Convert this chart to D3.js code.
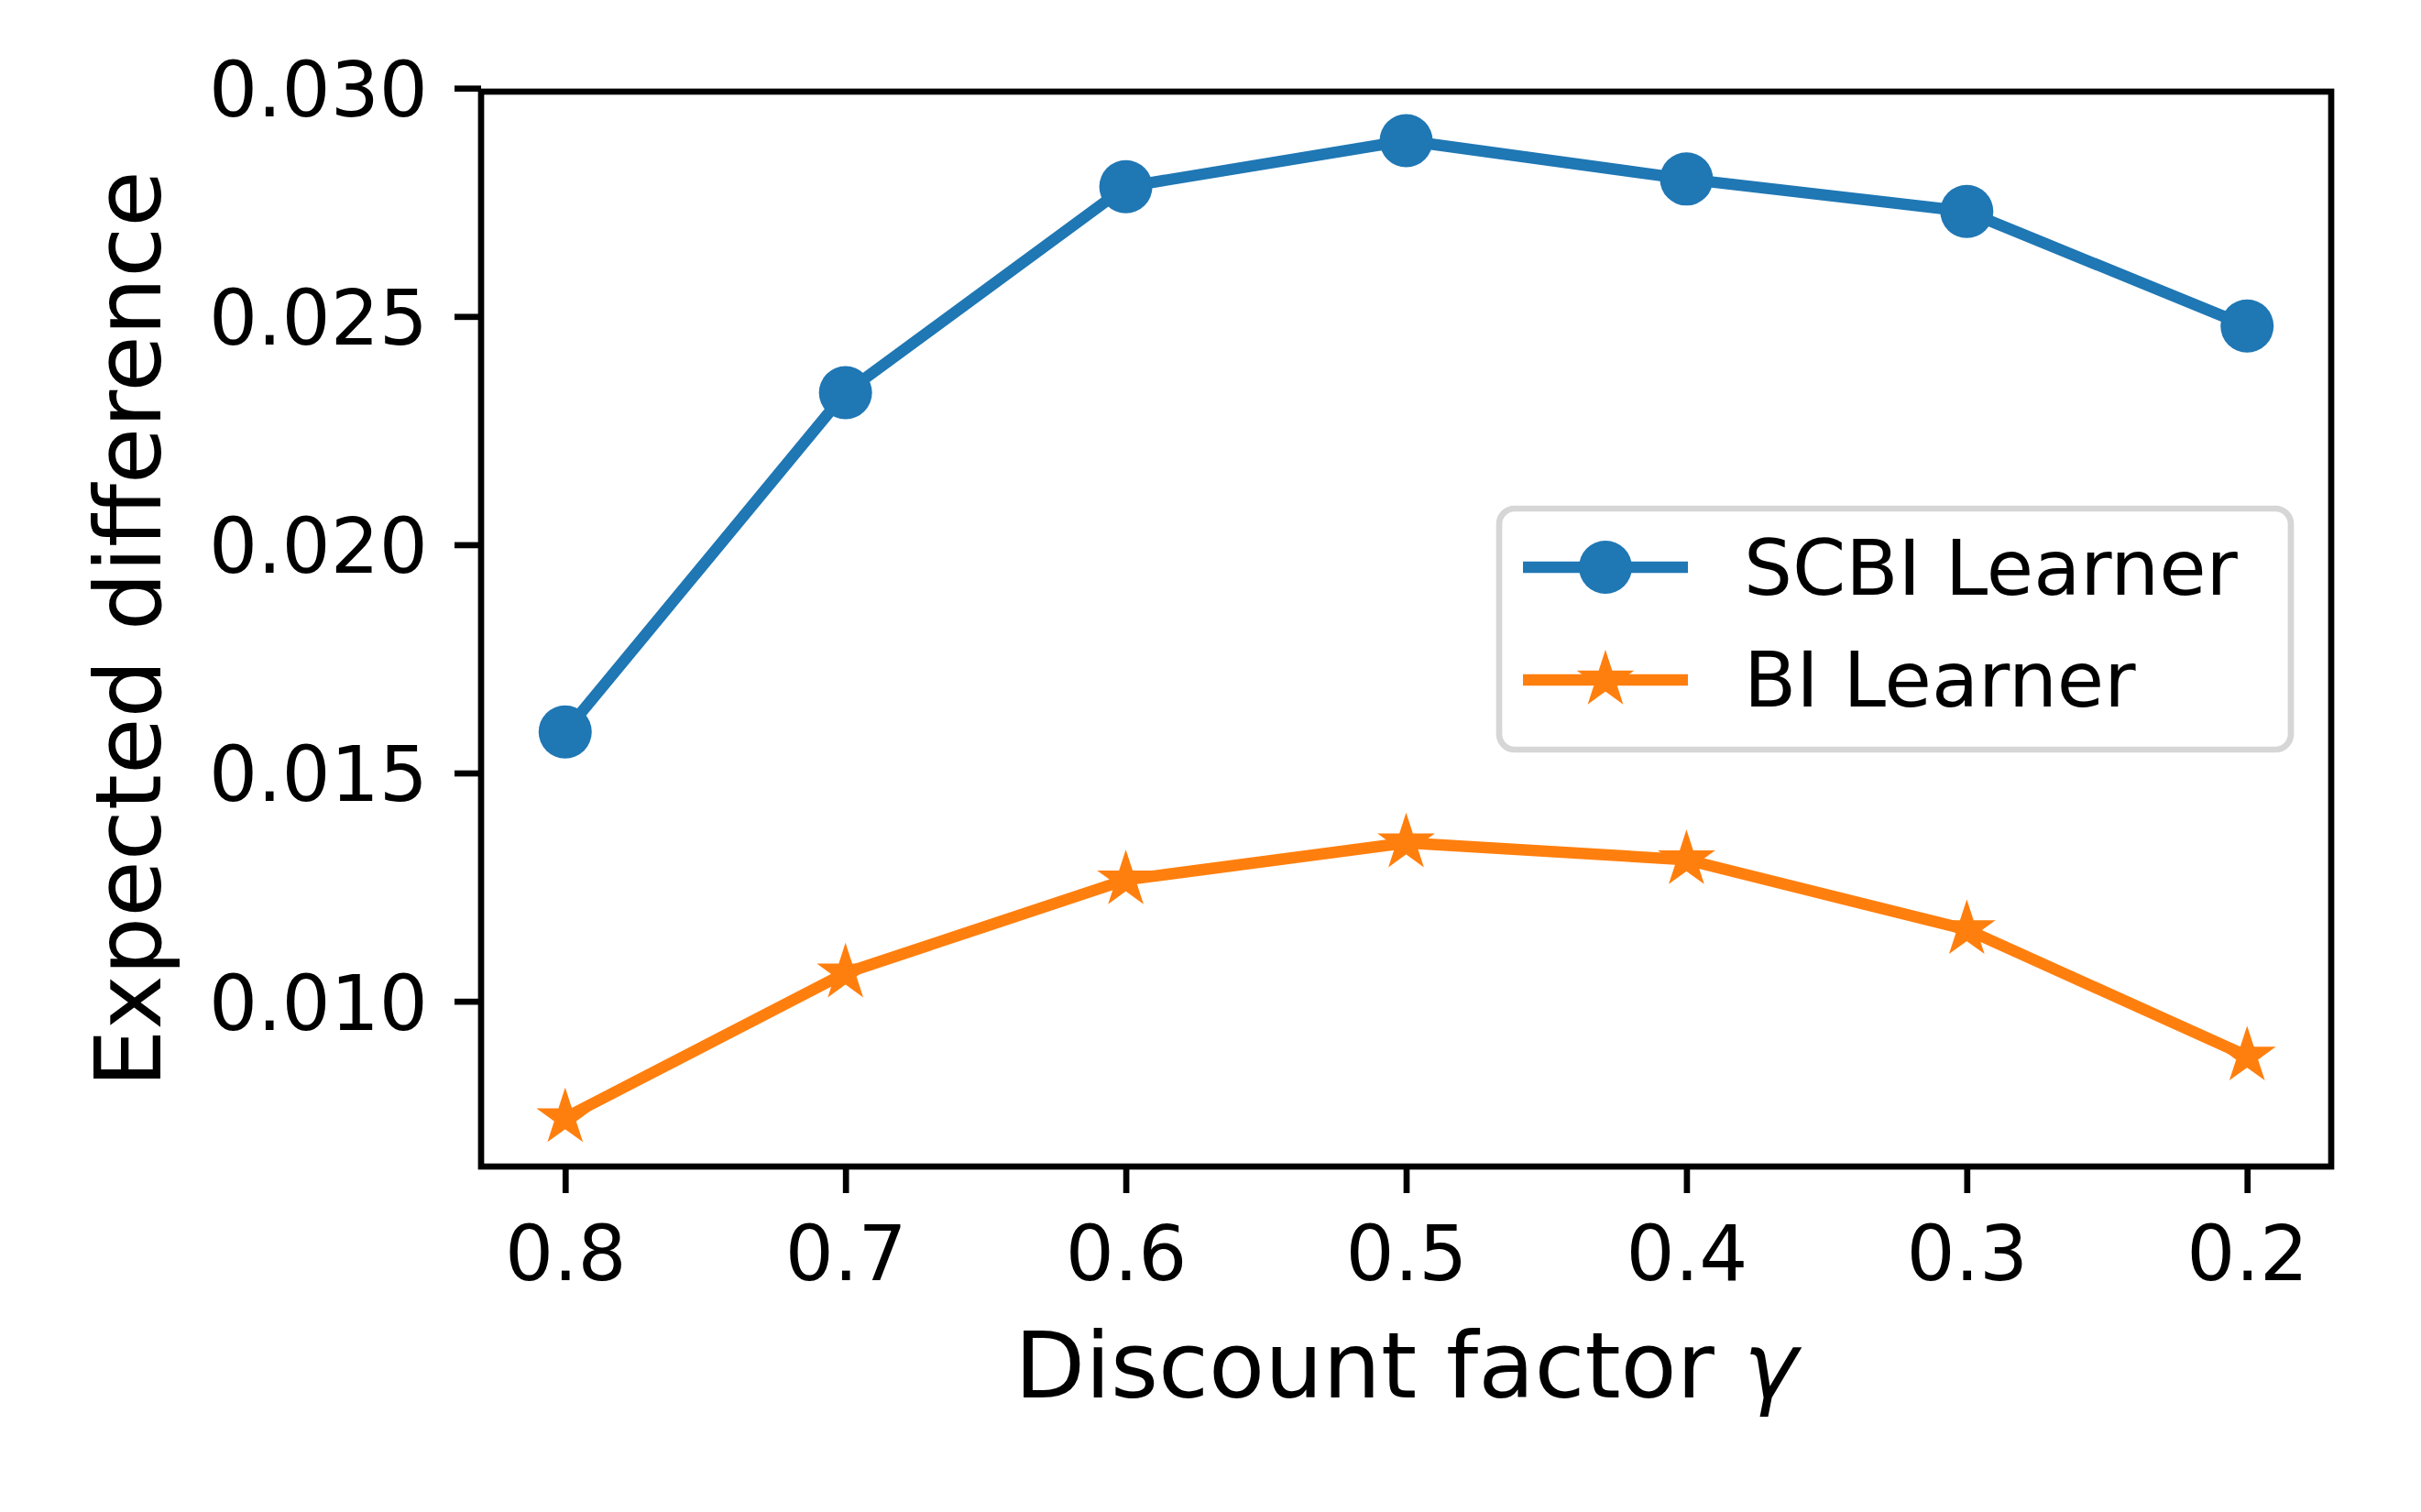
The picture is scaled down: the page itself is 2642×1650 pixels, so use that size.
<!DOCTYPE html>
<html>
<head>
<meta charset="utf-8">
<script src="https://cdn.jsdelivr.net/npm/d3@7"></script>
<style>
html, body { margin: 0; padding: 0; background: #ffffff; }
svg { display: block; }
</style>
</head>
<body>
<svg id="chart" width="2642" height="1650"></svg>
<script>
// ---- data ----
const gammas = [0.8, 0.7, 0.6, 0.5, 0.4, 0.3, 0.2];
const scbiValues = [0.01590, 0.02333, 0.02784, 0.02885, 0.02801, 0.02730, 0.02479];
const biValues = [0.00745, 0.01062, 0.01266, 0.01347, 0.01310, 0.01157, 0.00880];
const seriesNames = ["SCBI Learner", "BI Learner"];
const xTickValues = [0.8, 0.7, 0.6, 0.5, 0.4, 0.3, 0.2];
const xTickLabels = ["0.8", "0.7", "0.6", "0.5", "0.4", "0.3", "0.2"];
const yTickValues = [0.010, 0.015, 0.020, 0.025, 0.030];
const yTickLabels = ["0.010", "0.015", "0.020", "0.025", "0.030"];
const xLabel = "Discount factor ";
const yLabel = "Expected difference";

(function () {
// ---- layout ----
const pLeft = 525, pRight = 2544, pTop = 100, pBottom = 1273;
const font = "DejaVu Sans, sans-serif";
const tickFont = 83.5, labelFont = 100;
const spineW = 6.7, tickLen = 29;
const colors = ["#1f77b4", "#ff7f0e"];

const svg = d3.select("#chart");

const x = d3.scaleLinear().domain([0.83, 0.17]).range([pLeft, pRight]);
const y = d3.scaleLinear().domain([0.00638, 0.029924]).range([pBottom, pTop]);

// axes
const xAxis = d3.axisBottom(x)
  .tickValues(xTickValues)
  .tickFormat((d, i) => xTickLabels[i])
  .tickSizeInner(tickLen).tickSizeOuter(0).tickPadding(36);
const yAxis = d3.axisLeft(y)
  .tickValues(yTickValues)
  .tickFormat((d, i) => yTickLabels[i])
  .tickSizeInner(tickLen).tickSizeOuter(0).tickPadding(29);

const gx = svg.append("g").attr("transform", `translate(0,${pBottom})`).call(xAxis);
const gy = svg.append("g").attr("transform", `translate(${pLeft},0)`).call(yAxis);
[gx, gy].forEach(g => {
  g.attr("font-family", font).attr("font-size", tickFont);
  g.select(".domain").remove();
  g.selectAll(".tick line").attr("stroke", "#000").attr("stroke-width", spineW);
  g.selectAll(".tick text").attr("fill", "#000");
});
gy.selectAll(".tick text").attr("dy", "0.3645em");

// series lines & markers
const lineGen = d3.line().x((d, i) => x(gammas[i])).y(d => y(d));
const starSize = 26.5 * 26.5 / 0.8908130915292852;

function drawSeries(values, color, marker) {
  svg.append("path").datum(values)
    .attr("d", lineGen)
    .attr("fill", "none")
    .attr("stroke", color)
    .attr("stroke-width", 12.5)
    .attr("stroke-linejoin", "round")
    .attr("stroke-linecap", "square");
  if (marker === "circle") {
    svg.append("g").selectAll("circle").data(values).join("circle")
      .attr("cx", (d, i) => x(gammas[i]))
      .attr("cy", d => y(d))
      .attr("r", 29)
      .attr("fill", color);
  } else {
    svg.append("g").selectAll("path").data(values).join("path")
      .attr("d", d3.symbol().type(d3.symbolStar).size(starSize))
      .attr("transform", (d, i) => `translate(${x(gammas[i])},${y(d)})`)
      .attr("fill", color)
      .attr("stroke", color).attr("stroke-width", 4).attr("stroke-linejoin", "miter");
  }
}
drawSeries(scbiValues, colors[0], "circle");
drawSeries(biValues, colors[1], "star");

// frame
svg.append("rect")
  .attr("x", pLeft).attr("y", pTop)
  .attr("width", pRight - pLeft).attr("height", pBottom - pTop)
  .attr("fill", "none").attr("stroke", "#000").attr("stroke-width", spineW)
  .attr("stroke-linejoin", "miter");

// axis labels
const xl = svg.append("text")
  .attr("x", (pLeft + pRight) / 2).attr("y", 1525)
  .attr("text-anchor", "middle")
  .attr("font-family", font).attr("font-size", labelFont)
  .attr("fill", "#000");
xl.append("tspan").text(xLabel);
xl.append("tspan").attr("font-style", "italic").text("γ");

svg.append("text")
  .attr("transform", `translate(175,${(pTop + pBottom) / 2}) rotate(-90)`)
  .attr("text-anchor", "middle")
  .attr("font-family", font).attr("font-size", labelFont)
  .attr("fill", "#000")
  .text(yLabel);

// legend
const legend = svg.append("g");
legend.append("rect")
  .attr("x", 1636).attr("y", 555)
  .attr("width", 2500 - 1636).attr("height", 818 - 555)
  .attr("rx", 17).attr("ry", 17)
  .attr("fill", "#ffffff").attr("fill-opacity", 0.8)
  .attr("stroke", "#d6d6d6").attr("stroke-width", 6.7);
const legendRows = [619, 742];
const legendBase = [649, 771];
seriesNames.forEach((name, i) => {
  legend.append("line")
    .attr("x1", 1662).attr("x2", 1842)
    .attr("y1", legendRows[i]).attr("y2", legendRows[i])
    .attr("stroke", colors[i]).attr("stroke-width", 12.5);
  if (i === 0) {
    legend.append("circle").attr("cx", 1752).attr("cy", legendRows[i])
      .attr("r", 29).attr("fill", colors[i]);
  } else {
    legend.append("path")
      .attr("d", d3.symbol().type(d3.symbolStar).size(starSize))
      .attr("transform", `translate(1752,${legendRows[i]})`)
      .attr("fill", colors[i])
      .attr("stroke", colors[i]).attr("stroke-width", 4).attr("stroke-linejoin", "miter");
  }
  legend.append("text")
    .attr("x", 1903).attr("y", legendBase[i])
    .attr("font-family", font).attr("font-size", tickFont)
    .attr("fill", "#000")
    .text(name);
});
})();
</script>
</body>
</html>
